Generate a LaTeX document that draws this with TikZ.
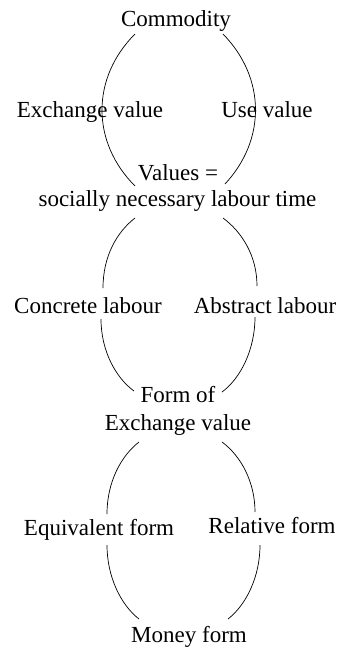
\documentclass[tikz,border=0pt]{standalone}
\usepackage{fontspec}
\setmainfont{Liberation Serif}
\begin{document}
\begin{tikzpicture}[x=1pt,y=-1pt,
  lbl/.style={anchor=base,inner sep=0pt,font=\fontsize{23}{27}\selectfont},
  arc/.style={draw=black,line width=0.7pt}]
\useasboundingbox (0,0) rectangle (341,651);
% texts
\node[lbl] (commodity) at (176,26) {Commodity};
\node[lbl] (exch1) at (90,117) {Exchange value};
\node[lbl] (use) at (267,117) {Use value};
\node[lbl] (values) at (178,180) {Values =};
\node[lbl] (snlt) at (177.5,206) {socially necessary labour time};
\node[lbl] (concrete) at (88,313) {Concrete labour};
\node[lbl] (abstract) at (265,313) {Abstract labour};
\node[lbl] (formof) at (178,402) {Form of};
\node[lbl] (exch2) at (178,430) {Exchange value};
\node[lbl] (equiv) at (99,535) {Equivalent form};
\node[lbl] (relative) at (272,533) {Relative form};
\node[lbl] (money) at (189,642) {Money form};
% arc end points
\coordinate (a1) at (135,34);  \coordinate (a2) at (135,186);
\coordinate (b1) at (223,34);  \coordinate (b2) at (225,184);
\coordinate (c1) at (135,218); \coordinate (c2) at (103,288);
\coordinate (c3) at (101,319); \coordinate (c4) at (134,391);
\coordinate (d1) at (223,218); \coordinate (d2) at (257,286);
\coordinate (d3) at (255,317); \coordinate (d4) at (222,392);
\coordinate (e1) at (139,442); \coordinate (e2) at (107,514);
\coordinate (e3) at (107,545); \coordinate (e4) at (139,619);
\coordinate (f1) at (222,442); \coordinate (f2) at (255,512);
\coordinate (f3) at (260,545); \coordinate (f4) at (228,619);
% top pair
\draw[arc] (a1) .. controls (91,78) and (91,142) .. (a2);
\draw[arc] (b1) .. controls (266,78) and (266,140) .. (b2);
% middle pair
\draw[arc] (c1) .. controls (117,232) and (103,256) .. (c2);
\draw[arc] (c3) .. controls (101,351) and (116,378) .. (c4);
\draw[arc] (d1) .. controls (242,232) and (257,256) .. (d2);
\draw[arc] (d3) .. controls (255,349) and (241,378) .. (d4);
% bottom pair
\draw[arc] (e1) .. controls (121,456) and (107,482) .. (e2);
\draw[arc] (e3) .. controls (107,577) and (121,605) .. (e4);
\draw[arc] (f1) .. controls (241,456) and (255,482) .. (f2);
\draw[arc] (f3) .. controls (260,577) and (246,605) .. (f4);
\end{tikzpicture}
\end{document}
